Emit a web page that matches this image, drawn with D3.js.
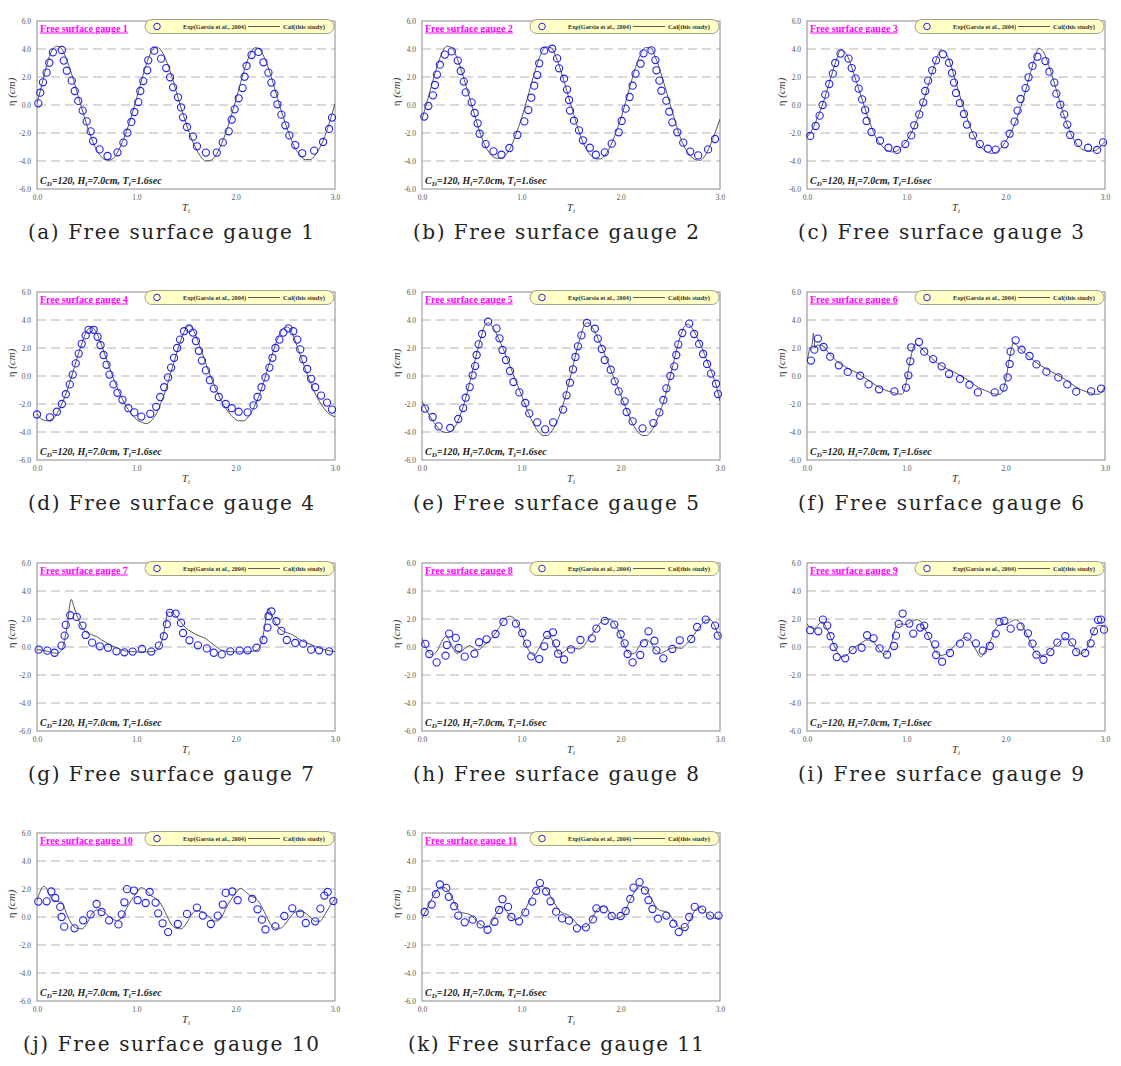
<!DOCTYPE html>
<html><head><meta charset="utf-8">
<script src="https://cdn.jsdelivr.net/npm/d3@7"></script>
<style>body{margin:0;background:#fff}</style>
</head><body>
<svg id="c" width="1121" height="1066"></svg>
<script>
// ---------- data: [T_i, eta(cm)] ----------
const gauge1Exp = [[0.013,0.12],[0.033,0.88],[0.06,1.62],[0.097,2.31],[0.124,3.02],[0.16,3.76],[0.25,3.93],[0.27,3.17],[0.30,2.45],[0.35,1.74],[0.38,1.0],[0.415,0.29],[0.46,-0.40],[0.50,-1.17],[0.54,-1.88],[0.565,-2.57],[0.63,-3.17],[0.71,-3.64],[0.81,-3.38],[0.87,-2.69],[0.91,-1.98],[0.95,-1.21],[0.98,-0.5],[1.02,0.21],[1.04,1.0],[1.07,1.71],[1.11,2.48],[1.12,3.19],[1.18,3.88],[1.25,3.31],[1.30,2.64],[1.34,1.98],[1.37,1.26],[1.42,0.55],[1.45,-0.17],[1.47,-0.88],[1.51,-1.57],[1.57,-2.26],[1.61,-2.95],[1.70,-3.40],[1.81,-3.40],[1.87,-2.67],[1.93,-1.88],[1.96,-1.05],[1.99,-0.31],[2.03,0.48],[2.07,1.21],[2.09,2.02],[2.11,2.79],[2.16,3.57],[2.23,3.79],[2.28,3.05],[2.33,2.31],[2.36,1.6],[2.39,0.79],[2.42,0.05],[2.46,-0.69],[2.50,-1.45],[2.54,-2.17],[2.60,-2.86],[2.67,-3.45],[2.79,-3.26],[2.88,-2.64],[2.94,-1.71],[2.97,-0.9]];
const gauge1Cal = [[0,0.1],[0.05,1.5],[0.1,2.9],[0.15,3.9],[0.2,4.2],[0.25,4.0],[0.3,3.2],[0.35,2.2],[0.4,1.0],[0.45,-0.2],[0.5,-1.4],[0.55,-2.4],[0.6,-3.2],[0.65,-3.7],[0.7,-3.95],[0.75,-3.9],[0.8,-3.5],[0.85,-2.8],[0.9,-1.9],[0.95,-0.8],[1.0,0.4],[1.05,1.7],[1.1,2.9],[1.15,3.8],[1.2,4.15],[1.25,3.9],[1.3,3.2],[1.35,2.2],[1.4,1.0],[1.45,-0.2],[1.5,-1.3],[1.55,-2.3],[1.6,-3.1],[1.65,-3.7],[1.7,-4.0],[1.75,-3.95],[1.8,-3.6],[1.85,-2.9],[1.9,-2.0],[1.95,-0.9],[2.0,0.3],[2.05,1.6],[2.1,2.8],[2.15,3.7],[2.2,4.1],[2.25,3.9],[2.3,3.2],[2.35,2.2],[2.4,1.0],[2.45,-0.2],[2.5,-1.3],[2.55,-2.3],[2.6,-3.1],[2.65,-3.6],[2.7,-3.9],[2.75,-3.9],[2.8,-3.6],[2.85,-3.0],[2.9,-2.2],[2.95,-1.1],[3.0,0.1]];

const gauge2Exp = [[0.023,-0.83],[0.064,-0.07],[0.11,0.69],[0.13,1.43],[0.15,2.17],[0.18,2.88],[0.23,3.6],[0.30,3.83],[0.36,3.17],[0.39,2.43],[0.42,1.67],[0.44,0.90],[0.50,0.19],[0.53,-0.57],[0.56,-1.31],[0.58,-2.05],[0.64,-2.79],[0.72,-3.31],[0.80,-3.55],[0.88,-3.07],[0.96,-2.14],[1.03,-1.17],[1.07,-0.36],[1.10,0.52],[1.13,1.38],[1.16,2.14],[1.18,2.98],[1.23,3.88],[1.31,4.02],[1.36,3.33],[1.38,2.62],[1.43,1.88],[1.46,1.10],[1.48,0.36],[1.49,-0.40],[1.53,-1.12],[1.58,-1.81],[1.62,-2.52],[1.69,-3.05],[1.75,-3.55],[1.84,-3.38],[1.91,-2.76],[1.98,-1.95],[2.01,-1.14],[2.05,-0.26],[2.09,0.57],[2.12,1.38],[2.15,2.24],[2.20,2.95],[2.23,3.69],[2.31,3.90],[2.35,3.21],[2.36,2.48],[2.39,1.74],[2.41,1.02],[2.46,0.31],[2.49,-0.48],[2.52,-1.24],[2.57,-1.95],[2.63,-2.69],[2.70,-3.33],[2.78,-3.60],[2.88,-3.17],[2.95,-2.43]];
const gauge2Cal = [[0,-1.0],[0.05,0.2],[0.1,1.5],[0.15,2.7],[0.2,3.7],[0.25,4.2],[0.3,4.1],[0.35,3.4],[0.4,2.4],[0.45,1.2],[0.5,0.0],[0.55,-1.2],[0.6,-2.3],[0.65,-3.1],[0.7,-3.6],[0.75,-3.8],[0.8,-3.8],[0.85,-3.5],[0.9,-2.9],[0.95,-2.0],[1.0,-1.0],[1.05,0.2],[1.1,1.5],[1.15,2.7],[1.2,3.7],[1.25,4.15],[1.3,4.1],[1.35,3.4],[1.4,2.4],[1.45,1.2],[1.5,0.0],[1.55,-1.2],[1.6,-2.3],[1.65,-3.1],[1.7,-3.6],[1.75,-3.85],[1.8,-3.85],[1.85,-3.5],[1.9,-2.9],[1.95,-2.0],[2.0,-1.0],[2.05,0.2],[2.1,1.5],[2.15,2.7],[2.2,3.6],[2.25,4.1],[2.3,4.1],[2.35,3.4],[2.4,2.4],[2.45,1.2],[2.5,0.0],[2.55,-1.2],[2.6,-2.3],[2.65,-3.1],[2.7,-3.6],[2.75,-3.9],[2.8,-3.95],[2.85,-3.6],[2.9,-2.9],[2.95,-2.0],[3.0,-1.0]];

const gauge3Exp = [[0.033,-2.21],[0.087,-1.50],[0.127,-0.76],[0.157,0.0],[0.184,0.74],[0.224,1.50],[0.26,2.24],[0.284,3.0],[0.338,3.67],[0.418,3.31],[0.45,2.64],[0.49,1.90],[0.52,1.17],[0.555,0.40],[0.585,-0.36],[0.60,-1.14],[0.65,-1.93],[0.735,-2.55],[0.82,-3.05],[0.906,-3.21],[0.99,-2.79],[1.05,-2.17],[1.08,-1.45],[1.13,-0.67],[1.17,0.19],[1.19,1.0],[1.22,1.74],[1.26,2.48],[1.30,3.19],[1.37,3.62],[1.43,3.02],[1.46,2.29],[1.48,1.60],[1.50,0.86],[1.54,0.14],[1.58,-0.64],[1.61,-1.40],[1.67,-2.17],[1.74,-2.79],[1.82,-3.12],[1.90,-3.19],[1.99,-2.81],[2.04,-2.05],[2.09,-1.19],[2.12,-0.40],[2.15,0.43],[2.20,1.21],[2.23,1.98],[2.27,2.79],[2.32,3.45],[2.40,3.14],[2.44,2.38],[2.49,1.60],[2.51,0.81],[2.55,0.02],[2.59,-0.67],[2.62,-1.40],[2.65,-2.14],[2.73,-2.71],[2.83,-3.05],[2.92,-3.21],[2.98,-2.67]];
const gauge3Cal = [[0,-2.3],[0.05,-1.8],[0.1,-1.0],[0.15,-0.1],[0.2,1.0],[0.25,2.2],[0.3,3.3],[0.34,3.95],[0.4,3.6],[0.45,2.7],[0.5,1.6],[0.55,0.5],[0.6,-0.6],[0.65,-1.6],[0.7,-2.4],[0.75,-2.9],[0.8,-3.2],[0.85,-3.35],[0.9,-3.3],[0.95,-3.0],[1.0,-2.6],[1.05,-2.0],[1.1,-1.2],[1.15,-0.2],[1.2,0.9],[1.25,2.1],[1.3,3.2],[1.35,3.95],[1.4,3.7],[1.45,2.8],[1.5,1.6],[1.55,0.4],[1.6,-0.7],[1.65,-1.7],[1.7,-2.5],[1.75,-3.0],[1.8,-3.3],[1.85,-3.45],[1.9,-3.4],[1.95,-3.1],[2.0,-2.6],[2.05,-2.0],[2.1,-1.2],[2.15,-0.2],[2.2,1.0],[2.25,2.3],[2.3,3.5],[2.33,4.05],[2.38,3.8],[2.43,2.9],[2.48,1.8],[2.53,0.6],[2.58,-0.6],[2.63,-1.6],[2.68,-2.4],[2.73,-2.9],[2.78,-3.2],[2.85,-3.3],[2.9,-3.25],[2.95,-3.0],[3.0,-2.6]];

const gauge4Exp = [[0.0,-2.75],[0.13,-2.95],[0.2,-2.55],[0.25,-2.0],[0.29,-1.3],[0.33,-0.6],[0.36,0.1],[0.39,0.9],[0.42,1.6],[0.45,2.3],[0.49,2.9],[0.52,3.3],[0.57,3.3],[0.61,2.8],[0.64,2.2],[0.67,1.5],[0.7,0.8],[0.73,0.1],[0.77,-0.6],[0.81,-1.2],[0.86,-1.7],[0.92,-2.3],[0.98,-2.6],[1.05,-2.9],[1.14,-2.7],[1.2,-2.2],[1.24,-1.5],[1.28,-0.8],[1.32,-0.1],[1.35,0.6],[1.38,1.3],[1.41,2.0],[1.44,2.6],[1.48,3.2],[1.53,3.4],[1.57,3.1],[1.6,2.5],[1.63,1.8],[1.66,1.1],[1.7,0.4],[1.74,-0.3],[1.78,-0.9],[1.83,-1.5],[1.9,-2.0],[1.96,-2.3],[2.03,-2.55],[2.12,-2.6],[2.18,-2.1],[2.22,-1.5],[2.26,-0.8],[2.3,-0.1],[2.34,0.6],[2.37,1.3],[2.4,2.0],[2.44,2.6],[2.48,3.1],[2.53,3.4],[2.58,3.2],[2.62,2.6],[2.65,1.9],[2.68,1.2],[2.72,0.5],[2.76,-0.2],[2.8,-0.8],[2.86,-1.4],[2.92,-1.9],[2.97,-2.4]];
const gauge4Cal = [[0,-2.7],[0.05,-3.1],[0.1,-3.2],[0.15,-3.1],[0.2,-2.7],[0.25,-2.0],[0.3,-1.1],[0.35,0.0],[0.4,1.2],[0.45,2.3],[0.5,3.2],[0.55,3.5],[0.6,3.1],[0.65,2.2],[0.7,1.2],[0.75,0.2],[0.8,-0.7],[0.85,-1.5],[0.9,-2.2],[0.95,-2.7],[1.0,-3.1],[1.05,-3.3],[1.1,-3.4],[1.15,-3.2],[1.2,-2.7],[1.25,-1.9],[1.3,-0.9],[1.35,0.3],[1.4,1.5],[1.45,2.6],[1.5,3.4],[1.54,3.6],[1.58,3.2],[1.63,2.3],[1.68,1.3],[1.73,0.3],[1.78,-0.6],[1.83,-1.4],[1.88,-2.1],[1.93,-2.6],[1.98,-3.0],[2.03,-3.2],[2.08,-3.2],[2.13,-2.9],[2.18,-2.3],[2.23,-1.5],[2.28,-0.5],[2.33,0.7],[2.38,1.8],[2.43,2.8],[2.48,3.4],[2.52,3.5],[2.56,3.2],[2.61,2.3],[2.66,1.3],[2.71,0.3],[2.76,-0.6],[2.81,-1.4],[2.86,-2.0],[2.91,-2.5],[2.96,-2.8],[3.0,-2.9]];

const gauge5Exp = [[0.03,-2.33],[0.107,-2.93],[0.167,-3.6],[0.284,-3.71],[0.365,-3.07],[0.415,-2.29],[0.44,-1.55],[0.48,-0.79],[0.51,0.05],[0.535,0.71],[0.55,1.5],[0.57,2.26],[0.605,3.0],[0.665,3.88],[0.75,3.4],[0.78,2.69],[0.81,1.86],[0.846,1.14],[0.886,0.36],[0.92,-0.43],[0.98,-1.17],[1.04,-1.93],[1.08,-2.67],[1.16,-3.31],[1.24,-3.81],[1.32,-3.31],[1.42,-2.40],[1.455,-1.38],[1.49,-0.48],[1.52,0.48],[1.545,1.36],[1.57,2.12],[1.605,2.90],[1.66,3.79],[1.74,3.38],[1.77,2.67],[1.81,1.93],[1.84,1.14],[1.90,0.45],[1.94,-0.38],[1.98,-1.10],[2.04,-1.81],[2.06,-2.57],[2.12,-3.24],[2.22,-3.74],[2.33,-3.36],[2.39,-2.60],[2.43,-1.71],[2.46,-0.88],[2.50,0.0],[2.54,0.69],[2.56,1.5],[2.58,2.26],[2.62,3.07],[2.69,3.74],[2.74,3.0],[2.79,2.29],[2.83,1.57],[2.87,0.86],[2.91,0.17],[2.96,-0.55],[2.98,-1.29]];
const gauge5Cal = [[0,-1.8],[0.05,-2.5],[0.1,-3.1],[0.15,-3.6],[0.2,-3.95],[0.25,-4.05],[0.3,-3.9],[0.35,-3.4],[0.4,-2.5],[0.45,-1.3],[0.5,0.1],[0.55,1.6],[0.6,2.9],[0.64,3.7],[0.67,3.8],[0.72,3.4],[0.77,2.7],[0.82,1.9],[0.87,1.0],[0.92,0.1],[0.97,-0.8],[1.02,-1.7],[1.07,-2.6],[1.12,-3.4],[1.17,-3.95],[1.22,-4.25],[1.26,-4.25],[1.3,-4.0],[1.35,-3.4],[1.4,-2.5],[1.45,-1.3],[1.5,0.1],[1.55,1.6],[1.6,2.9],[1.64,3.7],[1.67,3.8],[1.72,3.4],[1.77,2.7],[1.82,1.9],[1.87,1.0],[1.92,0.1],[1.97,-0.8],[2.02,-1.7],[2.07,-2.6],[2.12,-3.4],[2.17,-3.95],[2.22,-4.25],[2.26,-4.25],[2.3,-4.0],[2.35,-3.4],[2.4,-2.5],[2.45,-1.4],[2.5,0.0],[2.55,1.5],[2.6,2.8],[2.65,3.6],[2.68,3.7],[2.73,3.3],[2.78,2.6],[2.83,1.8],[2.88,0.9],[2.93,0.0],[2.97,-0.9],[3.0,-1.8]];

const gauge6Exp = [[0.04,1.10],[0.074,1.88],[0.11,2.67],[0.167,2.07],[0.234,1.38],[0.32,0.76],[0.41,0.29],[0.535,0.02],[0.62,-0.6],[0.726,-0.95],[0.88,-1.10],[0.997,-0.83],[1.02,0.05],[1.04,1.05],[1.05,2.05],[1.127,2.43],[1.18,1.74],[1.27,1.21],[1.355,0.69],[1.43,0.14],[1.54,-0.21],[1.635,-0.62],[1.72,-1.17],[1.89,-1.17],[1.98,-0.83],[2.02,-0.10],[2.04,0.86],[2.05,1.74],[2.10,2.55],[2.16,1.88],[2.24,1.43],[2.31,0.83],[2.41,0.31],[2.53,-0.10],[2.62,-0.6],[2.71,-1.12],[2.86,-1.10],[2.96,-0.90]];
const gauge6Cal = [[0,1.0],[0.03,2.0],[0.05,2.2],[0.065,3.05],[0.08,2.0],[0.1,2.2],[0.15,2.2],[0.2,1.8],[0.25,1.4],[0.3,1.05],[0.35,0.8],[0.4,0.6],[0.45,0.4],[0.5,0.25],[0.55,0.0],[0.6,-0.2],[0.65,-0.45],[0.7,-0.7],[0.75,-0.9],[0.8,-1.05],[0.85,-1.15],[0.9,-1.25],[0.95,-1.3],[0.97,-1.2],[1.0,-0.4],[1.03,0.8],[1.06,1.8],[1.09,2.3],[1.12,2.2],[1.15,2.0],[1.2,1.6],[1.25,1.3],[1.3,1.0],[1.35,0.75],[1.4,0.55],[1.45,0.4],[1.5,0.2],[1.55,0.0],[1.6,-0.2],[1.65,-0.45],[1.7,-0.7],[1.75,-0.9],[1.8,-1.05],[1.85,-1.2],[1.9,-1.3],[1.94,-1.3],[1.97,-1.1],[2.0,-0.3],[2.03,0.9],[2.06,2.0],[2.08,2.4],[2.11,2.2],[2.15,1.9],[2.2,1.6],[2.25,1.3],[2.3,1.0],[2.35,0.75],[2.4,0.55],[2.45,0.35],[2.5,0.15],[2.55,-0.05],[2.6,-0.25],[2.65,-0.5],[2.7,-0.75],[2.75,-0.95],[2.8,-1.1],[2.85,-1.2],[2.9,-1.3],[2.94,-1.3],[2.97,-1.1],[3.0,-0.7]];

const gauge7Exp = [[0.017,-0.19],[0.104,-0.26],[0.177,-0.41],[0.247,0.10],[0.278,0.81],[0.29,1.58],[0.334,2.27],[0.40,2.15],[0.458,1.53],[0.49,0.86],[0.555,0.31],[0.632,0.05],[0.716,-0.05],[0.80,-0.31],[0.88,-0.38],[0.963,-0.33],[1.057,-0.14],[1.15,-0.33],[1.227,0.10],[1.277,0.77],[1.307,1.63],[1.337,2.44],[1.395,2.39],[1.45,1.72],[1.47,1.0],[1.535,0.48],[1.62,0.12],[1.71,-0.10],[1.78,-0.41],[1.86,-0.53],[1.946,-0.31],[2.04,-0.26],[2.12,-0.24],[2.21,-0.05],[2.28,0.50],[2.32,1.39],[2.33,2.20],[2.36,2.54],[2.41,1.84],[2.46,1.15],[2.515,0.50],[2.60,0.29],[2.68,0.24],[2.76,-0.19],[2.84,-0.24],[2.94,-0.31]];
const gauge7Cal = [[0,-0.17],[0.1,-0.3],[0.2,-0.45],[0.25,-0.2],[0.28,0.6],[0.31,1.8],[0.33,3.0],[0.345,3.4],[0.37,2.9],[0.41,2.1],[0.46,1.3],[0.51,1.0],[0.56,0.85],[0.6,0.75],[0.65,0.5],[0.7,0.3],[0.75,0.1],[0.8,-0.05],[0.85,-0.2],[0.9,-0.3],[1.0,-0.35],[1.1,-0.35],[1.18,-0.3],[1.22,-0.1],[1.26,0.5],[1.29,1.5],[1.31,2.3],[1.32,2.5],[1.36,2.45],[1.4,2.2],[1.45,1.75],[1.5,1.35],[1.55,1.1],[1.6,0.9],[1.65,0.75],[1.7,0.6],[1.75,0.3],[1.8,0.05],[1.85,-0.2],[1.9,-0.3],[2.0,-0.35],[2.1,-0.35],[2.18,-0.3],[2.23,-0.1],[2.27,0.6],[2.3,1.8],[2.325,2.75],[2.35,2.5],[2.38,2.0],[2.42,1.5],[2.46,1.2],[2.5,1.05],[2.55,0.95],[2.6,0.75],[2.65,0.5],[2.7,0.35],[2.75,0.2],[2.8,0.05],[2.85,-0.1],[2.9,-0.2],[3.0,-0.33]];

const gauge8Exp = [[0.033,0.22],[0.074,-0.50],[0.147,-1.10],[0.237,-0.62],[0.25,0.14],[0.274,0.96],[0.34,0.65],[0.368,-0.07],[0.43,-0.69],[0.528,-0.48],[0.575,0.34],[0.65,0.55],[0.74,0.93],[0.82,1.79],[0.946,1.67],[1.01,1.0],[1.057,0.24],[1.10,-0.67],[1.18,-0.86],[1.23,0.05],[1.26,0.86],[1.318,1.05],[1.35,0.26],[1.37,-0.48],[1.43,-0.89],[1.50,-0.17],[1.595,0.50],[1.71,0.62],[1.756,1.31],[1.84,1.87],[1.936,1.60],[2.0,0.91],[2.04,0.26],[2.07,-0.50],[2.12,-1.10],[2.197,-0.57],[2.234,0.26],[2.28,1.12],[2.34,0.45],[2.36,-0.24],[2.43,-0.81],[2.52,-0.14],[2.595,0.48],[2.71,0.57],[2.77,1.43],[2.856,1.96],[2.95,1.53],[2.977,0.81]];
const gauge8Cal = [[0,0.62],[0.05,-0.2],[0.1,-0.55],[0.15,-0.3],[0.2,0.4],[0.24,0.75],[0.28,0.4],[0.32,-0.2],[0.35,-0.45],[0.4,-0.3],[0.45,0.0],[0.48,0.1],[0.53,-0.1],[0.57,-0.2],[0.62,0.1],[0.67,0.4],[0.72,0.8],[0.77,1.3],[0.82,1.9],[0.88,2.2],[0.92,2.1],[0.96,1.7],[1.0,1.0],[1.05,0.1],[1.1,-0.5],[1.13,-0.6],[1.17,-0.2],[1.22,0.5],[1.27,0.8],[1.31,0.5],[1.35,-0.1],[1.38,-0.5],[1.42,-0.4],[1.47,-0.1],[1.52,-0.05],[1.58,-0.15],[1.63,0.1],[1.68,0.6],[1.73,1.1],[1.78,1.6],[1.83,1.95],[1.88,2.0],[1.92,1.85],[1.96,1.4],[2.0,0.8],[2.05,-0.1],[2.1,-0.5],[2.14,-0.45],[2.19,0.1],[2.25,0.55],[2.3,0.3],[2.35,-0.2],[2.4,-0.45],[2.45,-0.3],[2.5,-0.1],[2.56,-0.05],[2.61,-0.1],[2.66,0.2],[2.71,0.6],[2.76,1.1],[2.81,1.6],[2.86,1.9],[2.9,1.95],[2.94,1.6],[2.97,1.1],[3.0,0.7]];

const gauge9Exp = [[0.033,1.20],[0.114,1.12],[0.16,1.96],[0.204,1.53],[0.237,0.77],[0.268,0.0],[0.30,-0.72],[0.385,-0.81],[0.46,-0.22],[0.55,-0.05],[0.605,0.84],[0.67,0.62],[0.73,-0.10],[0.806,-0.55],[0.876,0.07],[0.896,0.81],[0.923,1.65],[0.963,2.39],[1.03,1.67],[1.07,0.96],[1.14,1.39],[1.18,1.53],[1.22,0.79],[1.29,0.19],[1.30,-0.57],[1.36,-1.05],[1.44,-0.43],[1.54,0.24],[1.615,0.74],[1.70,0.26],[1.77,-0.26],[1.84,0.07],[1.90,0.96],[1.936,1.79],[1.986,1.87],[2.05,1.31],[2.15,1.46],[2.224,0.98],[2.27,0.24],[2.31,-0.55],[2.38,-0.91],[2.45,-0.36],[2.52,0.31],[2.60,0.77],[2.67,0.33],[2.71,-0.36],[2.80,-0.43],[2.856,0.26],[2.89,1.12],[2.93,1.94],[2.96,1.96],[2.99,1.24]];
const gauge9Cal = [[0,1.63],[0.07,1.3],[0.15,1.8],[0.2,1.3],[0.25,0.5],[0.3,-0.3],[0.35,-0.7],[0.4,-0.6],[0.45,-0.2],[0.55,0.3],[0.6,0.5],[0.65,0.45],[0.7,0.1],[0.75,-0.4],[0.78,-0.55],[0.85,0.3],[0.9,1.5],[0.95,1.65],[1.0,1.6],[1.05,1.8],[1.1,1.95],[1.15,1.8],[1.2,1.1],[1.25,0.3],[1.3,-0.4],[1.35,-0.6],[1.4,-0.5],[1.5,0.2],[1.6,0.7],[1.65,0.4],[1.7,-0.2],[1.75,-0.7],[1.8,-0.2],[1.85,0.5],[1.9,1.3],[1.95,1.6],[2.0,1.6],[2.05,1.8],[2.1,1.95],[2.15,1.7],[2.2,1.1],[2.25,0.3],[2.3,-0.4],[2.35,-0.6],[2.4,-0.55],[2.5,0.1],[2.6,0.65],[2.65,0.4],[2.7,-0.1],[2.75,-0.5],[2.8,-0.3],[2.85,0.5],[2.9,1.3],[2.95,1.55],[3.0,1.5]];

const gauge10Exp = [[0.013,1.10],[0.097,1.12],[0.144,1.82],[0.184,1.36],[0.234,0.72],[0.247,0.0],[0.274,-0.69],[0.378,-0.81],[0.465,-0.24],[0.54,0.19],[0.60,0.93],[0.65,0.36],[0.726,-0.24],[0.82,-0.53],[0.853,0.19],[0.88,1.05],[0.906,1.99],[0.977,1.89],[1.013,1.20],[1.094,1.0],[1.134,1.79],[1.194,1.03],[1.22,0.26],[1.264,-0.45],[1.32,-1.08],[1.418,-0.50],[1.51,0.22],[1.61,0.67],[1.67,0.10],[1.75,-0.50],[1.82,0.10],[1.87,0.89],[1.90,1.72],[1.966,1.82],[2.02,1.20],[2.167,1.29],[2.22,0.55],[2.264,-0.19],[2.30,-0.89],[2.40,-0.67],[2.49,0.07],[2.57,0.62],[2.65,0.24],[2.706,-0.43],[2.80,-0.31],[2.853,0.60],[2.893,1.53],[2.926,1.79],[2.983,1.14]];
const gauge10Cal = [[0,1.2],[0.03,1.8],[0.07,2.2],[0.1,2.0],[0.13,1.5],[0.18,1.15],[0.25,1.05],[0.3,0.2],[0.35,-0.5],[0.4,-0.8],[0.45,-0.85],[0.5,-0.5],[0.55,0.2],[0.6,0.5],[0.65,0.45],[0.7,0.2],[0.75,-0.1],[0.8,-0.25],[0.85,-0.1],[0.9,0.6],[0.95,1.2],[1.0,1.7],[1.05,2.1],[1.1,1.9],[1.15,1.5],[1.2,1.3],[1.25,0.9],[1.3,0.2],[1.35,-0.5],[1.4,-0.8],[1.45,-0.85],[1.5,-0.5],[1.55,0.1],[1.6,0.45],[1.65,0.4],[1.7,0.2],[1.75,-0.1],[1.8,-0.3],[1.85,-0.1],[1.9,0.6],[1.95,1.2],[2.0,1.7],[2.05,2.05],[2.1,1.8],[2.15,1.5],[2.2,1.35],[2.25,0.9],[2.3,0.2],[2.35,-0.5],[2.4,-0.8],[2.45,-0.8],[2.5,-0.5],[2.55,0.0],[2.6,0.35],[2.65,0.4],[2.7,0.3],[2.75,0.0],[2.8,-0.3],[2.85,-0.3],[2.9,0.2],[2.95,0.8],[3.0,1.3]];

const gauge11Exp = [[0.027,0.36],[0.097,0.89],[0.14,1.63],[0.18,2.32],[0.244,2.08],[0.27,1.44],[0.324,0.77],[0.365,0.10],[0.43,-0.38],[0.51,-0.19],[0.59,-0.53],[0.66,-0.91],[0.73,-0.34],[0.776,0.50],[0.81,1.27],[0.866,0.72],[0.90,0.0],[0.977,-0.31],[1.04,0.33],[1.11,1.10],[1.15,1.87],[1.187,2.42],[1.25,1.82],[1.294,1.12],[1.35,0.38],[1.41,-0.10],[1.48,-0.26],[1.56,-0.81],[1.65,-0.74],[1.72,-0.17],[1.756,0.62],[1.83,0.55],[1.91,0.07],[2.0,0.07],[2.05,0.43],[2.097,1.29],[2.13,2.10],[2.19,2.49],[2.244,1.89],[2.28,1.20],[2.32,0.57],[2.375,-0.12],[2.46,0.10],[2.53,-0.48],[2.585,-1.08],[2.645,-0.72],[2.69,0.0],[2.746,0.72],[2.82,0.53],[2.90,0.10],[2.986,0.10]];
const gauge11Cal = [[0,-0.1],[0.05,0.6],[0.1,1.3],[0.15,1.9],[0.2,2.15],[0.25,2.0],[0.3,1.4],[0.35,0.7],[0.4,0.3],[0.45,0.25],[0.5,0.1],[0.55,-0.3],[0.6,-0.6],[0.65,-0.75],[0.7,-0.4],[0.75,0.3],[0.8,0.75],[0.85,0.4],[0.9,-0.05],[0.95,-0.2],[1.0,0.1],[1.05,0.7],[1.1,1.4],[1.15,1.9],[1.2,2.2],[1.25,2.0],[1.3,1.4],[1.35,0.8],[1.4,0.35],[1.45,0.2],[1.5,0.0],[1.55,-0.4],[1.6,-0.7],[1.65,-0.7],[1.7,-0.3],[1.75,0.4],[1.8,0.75],[1.85,0.7],[1.9,0.2],[1.95,-0.1],[2.0,0.0],[2.05,0.5],[2.1,1.3],[2.15,1.9],[2.2,2.2],[2.25,2.0],[2.3,1.4],[2.35,0.8],[2.4,0.45],[2.45,0.4],[2.5,0.1],[2.55,-0.4],[2.6,-0.8],[2.65,-0.75],[2.7,-0.2],[2.75,0.5],[2.8,0.7],[2.85,0.4],[2.9,0.1],[2.95,-0.1],[3.0,-0.1]];

const gaugeNames = ["1","2","3","4","5","6","7","8","9","10","11"];
const panelLetters = ["a","b","c","d","e","f","g","h","i","j","k"];
const expSeries = [gauge1Exp,gauge2Exp,gauge3Exp,gauge4Exp,gauge5Exp,gauge6Exp,gauge7Exp,gauge8Exp,gauge9Exp,gauge10Exp,gauge11Exp];
const calSeries = [gauge1Cal,gauge2Cal,gauge3Cal,gauge4Cal,gauge5Cal,gauge6Cal,gauge7Cal,gauge8Cal,gauge9Cal,gauge10Cal,gauge11Cal];
const xTicks = [0,1,2,3];
const yTicks = [-6,-4,-2,0,2,4,6];
const gridValues = [-4,-2,0,2,4];
const legendExp = "Exp(Garsia et al., 2004)";
const legendCal = "Cal(this study)";

// ---------- layout ----------
const colLeft = [37, 422, 807];
const rowTop = [21, 292, 563, 833];
const W = 298, H = 168;
const serif = "'Liberation Serif','Times New Roman',serif";

const svg = d3.select("#c");
svg.append("rect").attr("width",1121).attr("height",1066).attr("fill","#fff");
const defs = svg.append("defs");

expSeries.forEach((exp, i) => {
  const col = i % 3, row = Math.floor(i / 3);
  const L = colLeft[col], T = rowTop[row];
  const x = d3.scaleLinear().domain([0,3]).range([L, L + W]);
  const y = d3.scaleLinear().domain([-6,6]).range([T + H, T]);
  const g = svg.append("g");

  defs.append("clipPath").attr("id","clip"+i)
    .append("rect").attr("x",L).attr("y",T).attr("width",W).attr("height",H);

  // grid
  g.selectAll("line.grid").data(gridValues).join("line")
    .attr("x1", x(0)).attr("x2", x(3))
    .attr("y1", d => y(d)).attr("y2", d => y(d))
    .attr("stroke","#b4b4b4").attr("stroke-width",1)
    .attr("stroke-dasharray","9,5");

  // frame
  g.append("rect").attr("x",L).attr("y",T).attr("width",W).attr("height",H)
    .attr("fill","none").attr("stroke","#8a8a8a").attr("stroke-width",1);

  // axes (labels only)
  const ya = g.append("g").attr("transform",`translate(${L-3},0)`)
    .call(d3.axisLeft(y).tickValues(yTicks).tickSize(0).tickFormat(d => d.toFixed(1)));
  const xa = g.append("g").attr("transform",`translate(0,${T+H+3})`)
    .call(d3.axisBottom(x).tickValues(xTicks).tickSize(0).tickFormat(d => d.toFixed(1)));
  [ya, xa].forEach(a => {
    a.select(".domain").remove();
    a.selectAll("text").attr("font-family",serif).attr("font-size",7.5).attr("fill","#555");
  });

  // x-axis label T_i
  const xl = g.append("text").attr("x", L + W/2).attr("y", T + H + 22)
    .attr("text-anchor","middle").attr("font-family",serif).attr("font-size",10.5)
    .attr("font-style","italic").attr("fill","#333");
  xl.append("tspan").text("T");
  xl.append("tspan").attr("font-size",7).attr("dy",2).text("i");

  // y-axis label
  const ylab = g.append("text")
    .attr("transform",`translate(${L-22},${T+71}) rotate(-90)`)
    .attr("text-anchor","middle").attr("font-family",serif).attr("font-size",11).attr("fill","#333");
  ylab.append("tspan").text("η ");
  ylab.append("tspan").attr("font-style","italic").text("(cm)");

  // computed line
  const line = d3.line().x(d => x(d[0])).y(d => y(d[1])).curve(d3.curveMonotoneX);
  g.append("path").datum(calSeries[i]).attr("d", line)
    .attr("clip-path",`url(#clip${i})`)
    .attr("fill","none").attr("stroke","#444").attr("stroke-width",0.9);

  // experimental points
  g.selectAll("circle.exp").data(exp).join("circle")
    .attr("cx", d => x(d[0])).attr("cy", d => y(d[1])).attr("r",3.6)
    .attr("fill","none").attr("stroke","#2222ee").attr("stroke-width",1.1);

  // title
  g.append("text").attr("x", L + 3).attr("y", T + 10.5)
    .attr("font-family",serif).attr("font-size",10).attr("font-weight","bold")
    .attr("fill","#ff00ff").attr("text-decoration","underline")
    .text("Free surface gauge " + gaugeNames[i]);

  // legend
  const lg = g.append("g");
  lg.append("rect").attr("x", L + 108).attr("y", T - 1.5).attr("width",189).attr("height",14)
    .attr("rx",7).attr("ry",7).attr("fill","#ffffc6").attr("stroke","#8a8a7a").attr("stroke-width",0.8);
  lg.append("circle").attr("cx", L + 120).attr("cy", T + 5.5).attr("r",3.3)
    .attr("fill","none").attr("stroke","#2222ee").attr("stroke-width",1);
  lg.append("text").attr("x", L + 146).attr("y", T + 7.5)
    .attr("font-family",serif).attr("font-size",5.6).attr("font-weight","bold").attr("fill","#333")
    .attr("textLength",63).attr("lengthAdjust","spacingAndGlyphs").text(legendExp);
  lg.append("line").attr("x1", L + 211).attr("x2", L + 243).attr("y1", T + 5.5).attr("y2", T + 5.5)
    .attr("stroke","#333").attr("stroke-width",0.8);
  lg.append("text").attr("x", L + 246).attr("y", T + 7.5)
    .attr("font-family",serif).attr("font-size",5.6).attr("font-weight","bold").attr("fill","#333")
    .attr("textLength",42).attr("lengthAdjust","spacingAndGlyphs").text(legendCal);

  // parameter annotation
  const an = g.append("text").attr("x", L + 3).attr("y", T + H - 5)
    .attr("font-family",serif).attr("font-size",10).attr("font-weight","bold")
    .attr("font-style","italic").attr("fill","#222");
  an.append("tspan").text("C");
  an.append("tspan").attr("font-size",7).attr("dy",2).text("D");
  an.append("tspan").attr("dy",-2).text("=120, H");
  an.append("tspan").attr("font-size",7).attr("dy",2).text("i");
  an.append("tspan").attr("dy",-2).text("=7.0cm, T");
  an.append("tspan").attr("font-size",7).attr("dy",2).text("i");
  an.append("tspan").attr("dy",-2).text("=1.6sec");

  // caption
  const cap = "(" + panelLetters[i] + ") Free surface gauge " + gaugeNames[i];
  g.append("text").attr("x", L + 134).attr("y", T + 218)
    .attr("text-anchor","middle").attr("font-family","'DejaVu Serif',serif").attr("font-size",20)
    .attr("fill","#222")
    .attr("textLength", gaugeNames[i].length > 1 ? 296 : 286).attr("lengthAdjust","spacing")
    .text(cap);
});
</script>
</body></html>
